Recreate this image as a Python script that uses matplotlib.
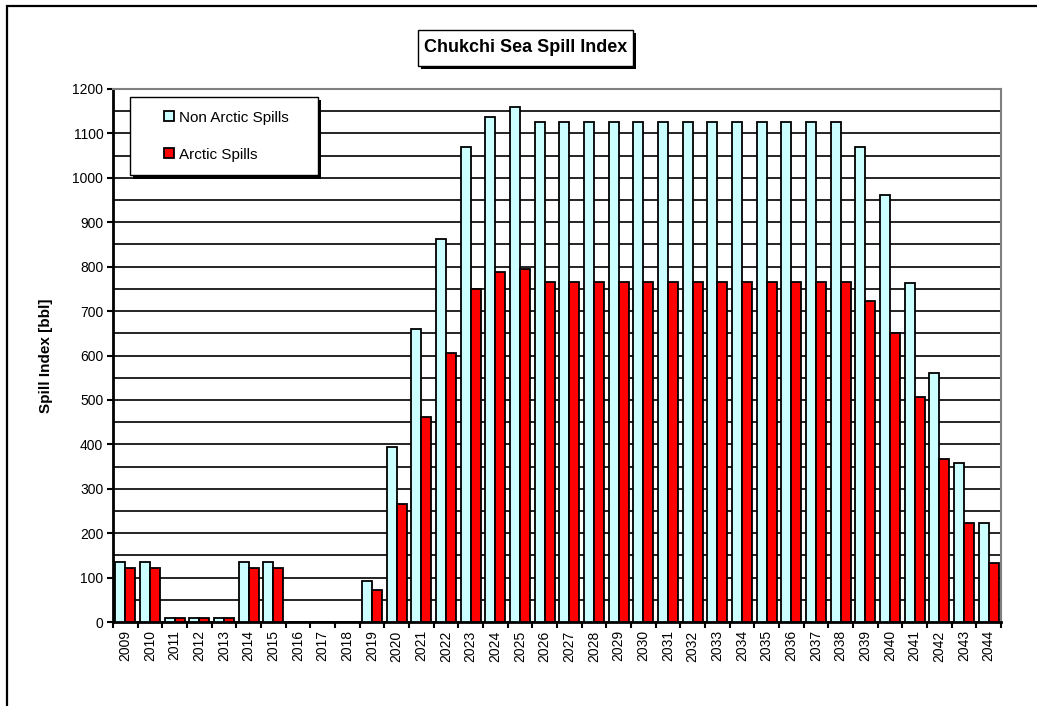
import matplotlib
matplotlib.use("Agg")
import matplotlib.pyplot as plt
import matplotlib.patheffects as pe
from matplotlib.patches import Rectangle
from matplotlib.lines import Line2D
from matplotlib.ticker import MultipleLocator, FixedLocator
import numpy as np

plt.rcParams['font.family'] = ['Liberation Sans', 'DejaVu Sans']

years = [str(y) for y in range(2009, 2045)]

non_arctic = [135, 135, 10, 10, 10, 135, 135, 0, 0, 0,
              92, 393, 659, 862, 1070, 1137, 1160,
              1125, 1125, 1125, 1125, 1125, 1125, 1125, 1125, 1125, 1125, 1125, 1125, 1125,
              1069, 962, 763, 560, 357, 224]
arctic = [121, 121, 10, 10, 10, 121, 121, 0, 0, 0,
          73, 265, 462, 606, 750, 787, 795,
          765, 765, 765, 765, 765, 765, 765, 765, 765, 765, 765, 765, 765,
          723, 650, 507, 366, 224, 132]

W, H = 1037, 706
fig = plt.figure(figsize=(W / 100, H / 100), dpi=100)
ax = fig.add_axes([113 / W, 84 / H, 888 / W, 533 / H])

x = np.arange(len(years))
bw = 0.41
ax.bar(x - bw / 2, non_arctic, bw, color='#CCFFFF', edgecolor='black', linewidth=1.3, zorder=3)
ax.bar(x + bw / 2, arctic, bw, color='#FF0000', edgecolor='black', linewidth=1.3, zorder=3)

ax.set_xlim(-0.5, len(years) - 0.5)
ax.set_ylim(0, 1200)

# y axis: labels every 100, gridlines every 50
ax.yaxis.set_major_locator(MultipleLocator(100))
ax.yaxis.set_minor_locator(MultipleLocator(50))
ax.grid(axis='y', which='both', color='black', linewidth=1.2, zorder=0)
ax.set_axisbelow(True)
ax.tick_params(axis='y', which='major', direction='out', length=4, width=1.5,
               labelsize=10, pad=3)
ax.tick_params(axis='y', which='minor', length=0)

# x axis: labels at the category centres, ticks at the category edges
ax.set_xticks(x)
ax.set_xticklabels(years, rotation=90)
ax.xaxis.set_minor_locator(FixedLocator(np.arange(-0.5, len(years), 1.0)))
ax.tick_params(axis='x', which='major', length=0, labelsize=10, pad=6)
ax.tick_params(axis='x', which='minor', direction='out', length=4, width=1.5)

for side in ['left', 'bottom']:
    ax.spines[side].set_linewidth(2)
    ax.spines[side].set_color('black')
for side in ['top', 'right']:
    ax.spines[side].set_linewidth(1.5)
    ax.spines[side].set_color('#808080')

ax.set_ylabel('Spill Index [bbl]', fontsize=11, fontweight='bold', labelpad=14)

# legend
handles = [
    Line2D([], [], linestyle='none', marker='s', markersize=6.5,
           markerfacecolor='#CCFFFF', markeredgecolor='black', markeredgewidth=1.3),
    Line2D([], [], linestyle='none', marker='s', markersize=6.5,
           markerfacecolor='#FF0000', markeredgecolor='black', markeredgewidth=1.3),
]
leg = ax.legend(handles, ['Non Arctic Spills', 'Arctic Spills'],
                loc='upper left', bbox_to_anchor=(0.0191, 0.6, 0.2117, 0.385),
                mode='expand', borderaxespad=0, fontsize=11,
                borderpad=0.9, labelspacing=1.5, handlelength=3.3,
                handletextpad=-1.0, fancybox=False, framealpha=1,
                edgecolor='black')
leg.get_frame().set_linewidth(1.0)
leg.get_frame().set_path_effects([
    pe.SimplePatchShadow(offset=(2.5, -2.5), shadow_rgbFace='black', alpha=1),
    pe.Normal()])
leg.set_zorder(5)

# title box with drop shadow
tx0, ty0, tw, th = 418, 640, 215, 36
shadow = Rectangle(((tx0 + 3) / W, (ty0 - 3) / H), tw / W, th / H,
                   transform=fig.transFigure, facecolor='black', edgecolor='none')
box = Rectangle((tx0 / W, ty0 / H), tw / W, th / H,
                transform=fig.transFigure, facecolor='white', edgecolor='black',
                linewidth=1.0)
fig.patches.extend([shadow, box])
fig.text((tx0 + tw / 2) / W, (ty0 + th / 2) / H, 'Chukchi Sea Spill Index',
         ha='center', va='center', fontsize=13, fontweight='bold')

# outer chart frame
frame = Rectangle((7 / W, -0.1), 1.2, (H - 6) / H + 0.1, transform=fig.transFigure,
                  facecolor='none', edgecolor='black', linewidth=1.6, clip_on=False)
fig.patches.append(frame)

fig.savefig('out.png', dpi=100)
